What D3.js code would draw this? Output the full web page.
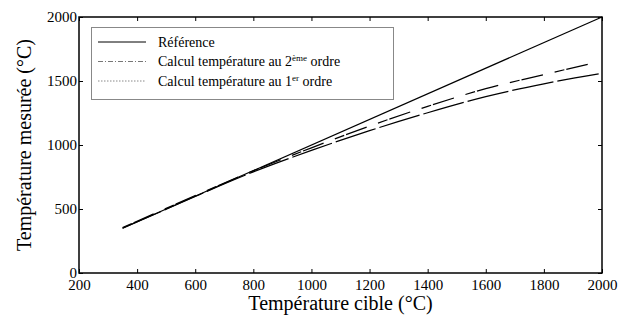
<!DOCTYPE html>
<html>
<head>
<meta charset="utf-8">
<script src="https://cdn.jsdelivr.net/npm/d3@7"></script>
<style>
  body { margin: 0; background: #fff; }
  svg text { font-family: "Liberation Serif", "Times New Roman", Times, "DejaVu Serif", serif !important; }
</style>
</head>
<body>
<div id="chart"></div>
<script>
// Data
const refX = [350, 2000];
const refY = [350, 2000];

const order2X = [350, 500, 600, 800, 1000, 1200, 1400, 1600, 1800, 1960];
const order2Y = [355, 505, 605, 798, 978, 1148, 1302, 1440, 1550, 1635];

const order1X = [350, 500, 600, 800, 1000, 1200, 1400, 1600, 1800, 2000];
const order1Y = [350, 498, 598, 790, 958, 1112, 1252, 1378, 1478, 1560];

const xTicks = [200, 400, 600, 800, 1000, 1200, 1400, 1600, 1800, 2000];
const yTicks = [0, 500, 1000, 1500, 2000];

const width = 629;
const height = 325;
const margin = { top: 17, right: 27, bottom: 52, left: 79 };

const svg = d3.select("#chart")
    .append("svg")
    .attr("width", width)
    .attr("height", height);

const x = d3.scaleLinear()
    .domain([200, 2000])
    .range([margin.left, width - margin.right]);

const y = d3.scaleLinear()
    .domain([0, 2000])
    .range([height - margin.bottom, margin.top]);

const tickLen = 4;
const fmt = d3.format("d");

function styleLabels(g) {
    g.select(".domain").remove();
    g.attr("font-family", null);
    g.selectAll("text")
        .style("font-size", "15px")
        .attr("fill", "#000");
}

// Axes with inward ticks on all four sides
svg.append("g")
    .attr("transform", `translate(0,${y(0)})`)
    .call(d3.axisBottom(x).tickValues(xTicks).tickFormat(fmt).tickSizeInner(-tickLen).tickSizeOuter(0).tickPadding(6))
    .call(styleLabels);

svg.append("g")
    .attr("transform", `translate(0,${y(2000)})`)
    .call(d3.axisTop(x).tickValues(xTicks).tickSizeInner(-tickLen).tickSizeOuter(0).tickFormat(""))
    .call(g => g.select(".domain").remove());

svg.append("g")
    .attr("transform", `translate(${x(200)},0)`)
    .call(d3.axisLeft(y).tickValues(yTicks).tickFormat(fmt).tickSizeInner(-tickLen).tickSizeOuter(0).tickPadding(2))
    .call(styleLabels);

svg.append("g")
    .attr("transform", `translate(${x(2000)},0)`)
    .call(d3.axisRight(y).tickValues(yTicks).tickSizeInner(-tickLen).tickSizeOuter(0).tickFormat(""))
    .call(g => g.select(".domain").remove());

// Plot frame
svg.append("rect")
    .attr("x", x(200))
    .attr("y", y(2000))
    .attr("width", x(2000) - x(200))
    .attr("height", y(0) - y(2000))
    .attr("fill", "none")
    .attr("stroke", "#000")
    .attr("stroke-width", 1.5);

const line = d3.line()
    .x(d => x(d[0]))
    .y(d => y(d[1]))
    .curve(d3.curveMonotoneX);

const series = [
    { xs: refX, ys: refY, dash: null },
    { xs: order2X, ys: order2Y, dash: "10,2,22,12" },
    { xs: order1X, ys: order1Y, dash: "42,4" }
];

series.forEach(s => {
    svg.append("path")
        .datum(s.xs.map((v, i) => [v, s.ys[i]]))
        .attr("d", line)
        .attr("fill", "none")
        .attr("stroke", "#000")
        .attr("stroke-width", 1.2)
        .attr("stroke-dasharray", s.dash);
});

// Legend
const legend = svg.append("g");
legend.append("rect")
    .attr("x", 91.5)
    .attr("y", 27.5)
    .attr("width", 302)
    .attr("height", 72)
    .attr("fill", "#fff")
    .attr("stroke", "#888")
    .attr("stroke-width", 1);

const legendItems = [
    { parts: [["Référence", false]], dash: null, color: "#000" },
    { parts: [["Calcul température au 2", false], ["ème", true], [" ordre", false]], dash: "5,2,1,2", color: "#777" },
    { parts: [["Calcul température au 1", false], ["er", true], [" ordre", false]], dash: "1.5,1.5", color: "#888" }
];

legendItems.forEach((item, i) => {
    const ly = 42 + i * 19.5;
    legend.append("line")
        .attr("x1", 98).attr("x2", 146)
        .attr("y1", ly).attr("y2", ly)
        .attr("stroke", item.color)
        .attr("stroke-width", 1)
        .attr("stroke-dasharray", item.dash);
    const t = legend.append("text")
        .attr("x", 158)
        .attr("y", ly + 4.5)
        .attr("font-size", "14px")
        .attr("fill", "#000");
    item.parts.forEach(p => {
        const span = t.append("tspan").text(p[0]);
        if (p[1]) span.attr("font-size", "9px").attr("dy", -5);
        else if (span.node().previousSibling) span.attr("dy", 5);
    });
});

// Axis titles
svg.append("text")
    .attr("x", (x(200) + x(2000)) / 2)
    .attr("y", 310)
    .attr("text-anchor", "middle")
    .attr("font-size", "20px")
    .attr("fill", "#000")
    .text("Température cible (°C)");

svg.append("text")
    .attr("transform", `translate(31,${(y(0) + y(2000)) / 2}) rotate(-90)`)
    .attr("text-anchor", "middle")
    .attr("font-size", "20px")
    .attr("fill", "#000")
    .text("Température mesurée (°C)");
</script>
</body>
</html>
